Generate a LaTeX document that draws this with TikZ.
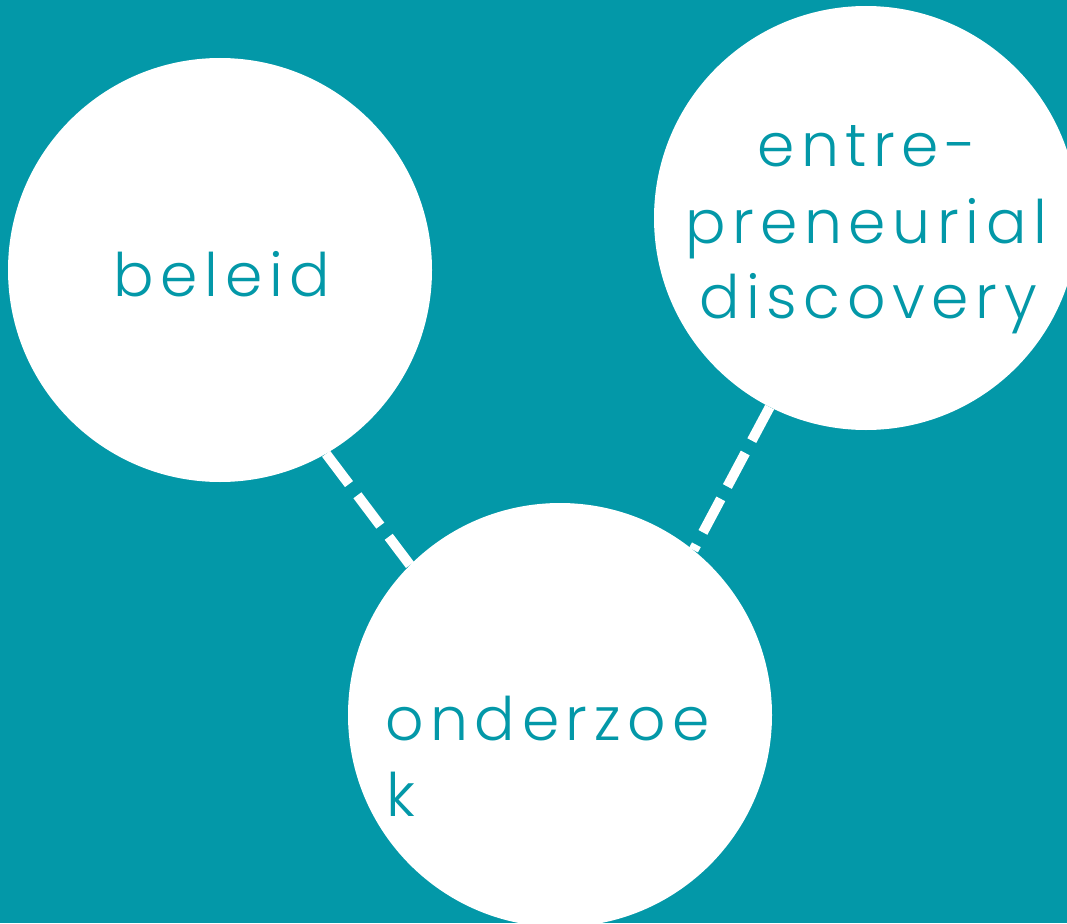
\documentclass[tikz,border=0pt]{standalone}
\usepackage{fontspec}
\newfontfamily\labelfont{Poppins Light}[LetterSpace=11]
\definecolor{teal}{HTML}{0398A8}
\begin{document}
\begin{tikzpicture}[x=1pt,y=-1pt,
  bubble/.style={circle,fill=white,draw=none,minimum size=424pt,inner sep=0pt},
  link/.style={draw=white,line width=10pt,dash pattern=on 38pt off 14pt},
  txt/.style={text=teal,font=\labelfont\fontsize{60}{76}\selectfont,inner sep=0pt}]
\fill[teal] (0,0) rectangle (1067,923);
\useasboundingbox (0,0) rectangle (1067,923);
\node[bubble] (beleid) at (220,270) {};
\node[bubble] (entre) at (866,218) {};
\node[bubble] (onderzoek) at (560,715) {};
\draw[link] (beleid.-60.5) -- (onderzoek.135.2);
\draw[link] (entre.-117.2) -- (onderzoek.51.8);
\node[txt,anchor=base] (t1) at (222,296) {beleid};
\node[txt,anchor=base] (t2a) at (867,166) {entre-};
\node[txt,anchor=base] (t2b) at (866,243) {preneurial};
\node[txt,anchor=base] (t2c) at (868,318) {discovery};
\node[txt,anchor=base west] (t3a) at (385,740) {onderzoe};
\node[txt,anchor=base west] (t3b) at (386,816) {k};
\end{tikzpicture}
\end{document}
